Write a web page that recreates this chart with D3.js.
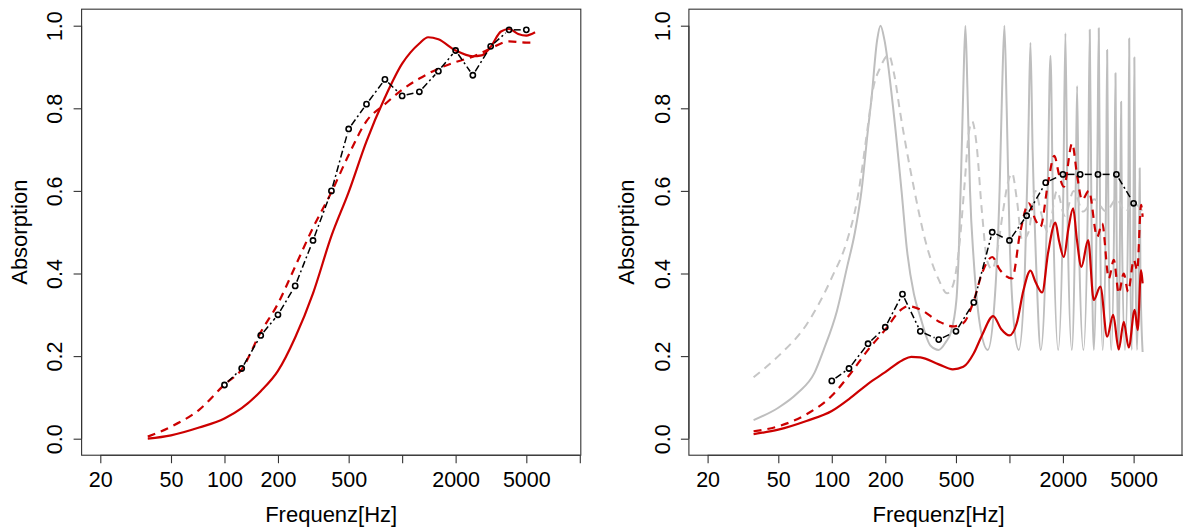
<!DOCTYPE html>
<html><head><meta charset="utf-8">
<script src="https://cdn.jsdelivr.net/npm/d3@7"></script>
<style>
body{margin:0;background:#fff}
text{font-family:"Liberation Sans",Arial,sans-serif;fill:#000}
</style>
</head><body>
<svg id="chart" width="1183" height="530"></svg>
<script>
// ---------- axis ticks ----------
const freqTicks = [20, 50, 100, 200, 500, 1000, 2000, 5000, 10000];
const freqTickLabels = ["20", "50", "100", "200", "500", "", "2000", "5000", ""];
const absTicks = [0, 0.2, 0.4, 0.6, 0.8, 1.0];
const xTitle = "Frequenz[Hz]";
const yTitle = "Absorption";

// ---------- measured third-octave points (black, circles) ----------
const bandFreq = [100,125,160,200,250,315,400,500,630,800,1000,1250,1600,2000,2500,3150,4000,5000];
const leftMeasured  = [0.13,0.17,0.25,0.30,0.37,0.48,0.60,0.75,0.81,0.87,0.83,0.84,0.89,0.94,0.88,0.95,0.99,0.99];
const rightMeasured = [0.14,0.17,0.23,0.27,0.35,0.26,0.24,0.26,0.33,0.50,0.48,0.54,0.62,0.64,0.64,0.64,0.64,0.57];

// ---------- left panel model curves [Hz, absorption] ----------
const leftRedSolid = [[37,0.0],[50,0.008],[72,0.027],[100,0.049],[125,0.074],[160,0.115],[200,0.164],[250,0.245],
  [315,0.352],[400,0.491],[500,0.597],[630,0.72],[800,0.826],[1000,0.908],[1250,0.957],[1400,0.972],[1600,0.967],
  [2000,0.94],[2500,0.926],[2800,0.928],[3150,0.949],[3600,0.986],[4000,0.992],[4500,0.98],[5000,0.976],[5600,0.984]];
const leftRedDashed = [[37,0.005],[50,0.029],[72,0.07],[100,0.131],[125,0.168],[160,0.258],[200,0.327],[250,0.417],
  [315,0.511],[400,0.597],[500,0.687],[630,0.769],[800,0.81],[1000,0.845],[1250,0.872],[1600,0.896],[2000,0.912],
  [2500,0.925],[3150,0.945],[4000,0.962],[5000,0.959],[5600,0.959]];

// ---------- right panel model curves ----------
const rightRedSolid = [[36.3,0.011],[50,0.022],[72,0.043],[100,0.067],[125,0.096],[160,0.133],[200,0.161],[250,0.19],
  [280,0.198],[315,0.197],[400,0.18],[480,0.168],[550,0.174],[630,0.207],[700,0.25],[810,0.297],[900,0.265],[1000,0.25],
  [1100,0.28],[1200,0.36],[1313,0.407],[1400,0.38],[1528,0.354],[1650,0.45],[1815,0.523],[1900,0.48],[2023,0.44],
  [2150,0.51],[2282,0.558],[2400,0.48],[2541,0.416],[2773,0.481],[2981,0.336],[3250,0.368],[3548,0.247],[3835,0.3],
  [4124,0.216],[4399,0.283],[4693,0.221],[5070,0.312],[5271,0.263],[5506,0.408],[5620,0.376]];
const rightRedDashed = [[36.3,0.018],[50,0.03],[72,0.059],[100,0.104],[125,0.153],[160,0.215],[200,0.264],[250,0.315],
  [270,0.321],[315,0.313],[400,0.284],[480,0.272],[550,0.28],[630,0.334],[700,0.4],[800,0.44],[880,0.41],[1035,0.388],
  [1150,0.5],[1285,0.57],[1400,0.53],[1494,0.513],[1650,0.62],[1790,0.685],[1900,0.64],[2023,0.61],[2254,0.715],
  [2400,0.64],[2563,0.578],[2800,0.6],[3119,0.489],[3327,0.521],[3626,0.388],[3866,0.433],[4124,0.352],[4399,0.4],
  [4656,0.356],[5013,0.433],[5240,0.408],[5506,0.566],[5620,0.537]];
const rightGraySolid = [[36.3,0.045],[50,0.075],[64,0.11],[80,0.16],[90,0.215],[107,0.31],[122,0.416],[135,0.5],
  [147,0.6],[160,0.75],[167,0.82],[180,0.965],[188,1.0],[198,0.965],[219,0.82],[247,0.6],[265,0.457],[290,0.35],
  [315,0.295],[360,0.225],[400,0.215],[440,0.235],[466,0.255],[503,0.336],[519,0.457],[535,0.65],[550,0.85],
  [565,1.0],[580,0.85],[600,0.6],[630,0.43],[680,0.28],[755,0.215],[830,0.35],[880,0.6],[910,0.85],[937,1.0],
  [965,0.8],[1000,0.5],[1050,0.3],[1128,0.215],[1220,0.4],[1280,0.75],[1313,0.959],[1350,0.7],[1420,0.4],[1500,0.215],
  [1640,0.6],[1702,0.927],[1760,0.55],[1880,0.215],[2010,0.6],[2066,0.982],[2130,0.5],[2245,0.215],[2360,0.6],
  [2404,0.854],[2470,0.45],[2610,0.215],[2770,0.6],[2832,0.99],[2900,0.5],[2985,0.215],[3130,0.7],[3183,0.994],
  [3240,0.5],[3350,0.215],[3500,0.6],[3548,0.941],[3610,0.5],[3740,0.215],[3900,0.6],[3953,0.885],[4010,0.5],
  [4100,0.215],[4210,0.6],[4253,0.816],[4300,0.5],[4470,0.215],[4670,0.6],[4721,0.969],[4780,0.5],[4870,0.215],
  [5000,0.6],[5048,0.923],[5110,0.5],[5220,0.215],[5370,0.5],[5410,0.655],[5460,0.4],[5620,0.21]];
const rightGrayDashed = [[36.3,0.149],[50,0.2],[72,0.276],[100,0.39],[122,0.48],[139,0.578],[160,0.76],[169,0.836],
  [188,0.9],[209,0.929],[225,0.88],[243,0.788],[289,0.61],[336,0.48],[400,0.385],[446,0.352],[480,0.37],[520,0.46],
  [560,0.62],[590,0.74],[617,0.768],[650,0.72],[700,0.55],[750,0.43],[800,0.41],[850,0.45],[920,0.55],[980,0.62],
  [1035,0.643],[1100,0.58],[1180,0.48],[1280,0.5],[1400,0.6],[1500,0.55],[1650,0.5],[1850,0.6],[2050,0.54],
  [2300,0.6],[2600,0.55],[3000,0.58],[3500,0.55],[4000,0.58],[4500,0.55],[5000,0.57],[5620,0.55]];

// ---------- drawing ----------
const svg = d3.select("#chart");
svg.append("rect").attr("width",1183).attr("height",530).attr("fill","#fff");

const RED = "#cc0000", GRAY = "#bebebe", GRAY_D = "#c6c6c6";

function panel(ox, boxRight, layers, measured) {
  const x = d3.scaleLog().domain([20, 10000]).range([100.3 + ox, 579.8 + ox]);
  const y = d3.scaleLinear().domain([0, 1]).range([438.7, 25.7]);
  const box = {l: x(20) - 18.7, t: y(1.04), b: y(-0.04), r: boxRight};
  const g = svg.append("g");

  // model curves
  const line = d3.line().x(d => x(d[0])).y(d => y(d[1])).curve(d3.curveMonotoneX);
  layers.forEach(s => {
    g.append("path").attr("d", line(s.data)).attr("fill", "none")
      .attr("stroke", s.color).attr("stroke-width", s.width)
      .attr("stroke-dasharray", s.dash || null)
      .attr("stroke-linejoin", "round");
  });

  // measured: type "b" (segments with gaps around circles)
  const pts = bandFreq.map((f, i) => [x(f), y(measured[i])]);
  const gap = 4.6;
  for (let i = 0; i < pts.length - 1; i++) {
    const [x0, y0] = pts[i], [x1, y1] = pts[i + 1];
    const L = Math.hypot(x1 - x0, y1 - y0);
    if (L <= 2 * gap) continue;
    const ux = (x1 - x0) / L, uy = (y1 - y0) / L;
    g.append("line")
      .attr("x1", x0 + ux * gap).attr("y1", y0 + uy * gap)
      .attr("x2", x1 - ux * gap).attr("y2", y1 - uy * gap)
      .attr("stroke", "#000").attr("stroke-width", 1.5)
      .attr("stroke-dasharray", "7,3,2,3");
  }
  g.selectAll("circle.m").data(pts).join("circle")
    .attr("cx", d => d[0]).attr("cy", d => d[1]).attr("r", 2.6)
    .attr("fill", "none").attr("stroke", "#000").attr("stroke-width", 1.6);

  // box
  g.append("rect").attr("x", box.l).attr("y", box.t)
    .attr("width", box.r - box.l).attr("height", box.b - box.t)
    .attr("fill", "none").attr("stroke", "#333").attr("stroke-width", 1.1);

  // x axis
  const xa = g.append("g").attr("transform", `translate(0,${box.b})`)
    .call(d3.axisBottom(x).tickValues(freqTicks).tickFormat((d, i) => freqTickLabels[i]).tickSize(8).tickSizeOuter(0));
  xa.select(".domain").attr("stroke", "#333").attr("stroke-width", 1.1)
    .attr("d", `M${x(20)},0H${x(10000)}`);
  xa.selectAll(".tick line").attr("stroke", "#333").attr("stroke-width", 1.1);
  xa.selectAll(".tick text").attr("y", 487 - box.b).attr("dy", null)
    .style("font-size", "21.5px").attr("fill", "#000");

  // y axis
  const ya = g.append("g").attr("transform", `translate(${box.l},0)`)
    .call(d3.axisLeft(y).tickValues(absTicks).tickFormat(d3.format(".1f")).tickSize(8).tickSizeOuter(0));
  ya.select(".domain").attr("stroke", "#333").attr("stroke-width", 1.1)
    .attr("d", `M0,${y(0)}V${y(1)}`);
  ya.selectAll(".tick line").attr("stroke", "#333").attr("stroke-width", 1.1);
  ya.selectAll(".tick text")
    .attr("x", null).attr("dy", null)
    .attr("transform", `translate(${62.3 - 81.6},0) rotate(-90)`)
    .attr("text-anchor", "middle")
    .style("font-size", "21.5px").attr("fill", "#000");

  // titles
  g.append("text").attr("x", (box.l + x(10000) + 1) / 2).attr("y", 522)
    .attr("text-anchor", "middle").style("font-size", "22px").text(xTitle);
  g.append("text").attr("transform", `translate(${27 + ox},${(box.t + box.b) / 2}) rotate(-90)`)
    .attr("text-anchor", "middle").style("font-size", "22px").text(yTitle);
}

panel(0, 580.8, [
  {data: leftRedSolid, color: RED, width: 2.2},
  {data: leftRedDashed, color: RED, width: 2.2, dash: "8,6"}
], leftMeasured);

panel(607.3, 1182, [
  {data: rightGraySolid, color: GRAY, width: 2},
  {data: rightGrayDashed, color: GRAY_D, width: 2, dash: "8,6"},
  {data: rightRedSolid, color: RED, width: 2.2},
  {data: rightRedDashed, color: RED, width: 2.2, dash: "8,6"}
], rightMeasured);
</script>
</body></html>
